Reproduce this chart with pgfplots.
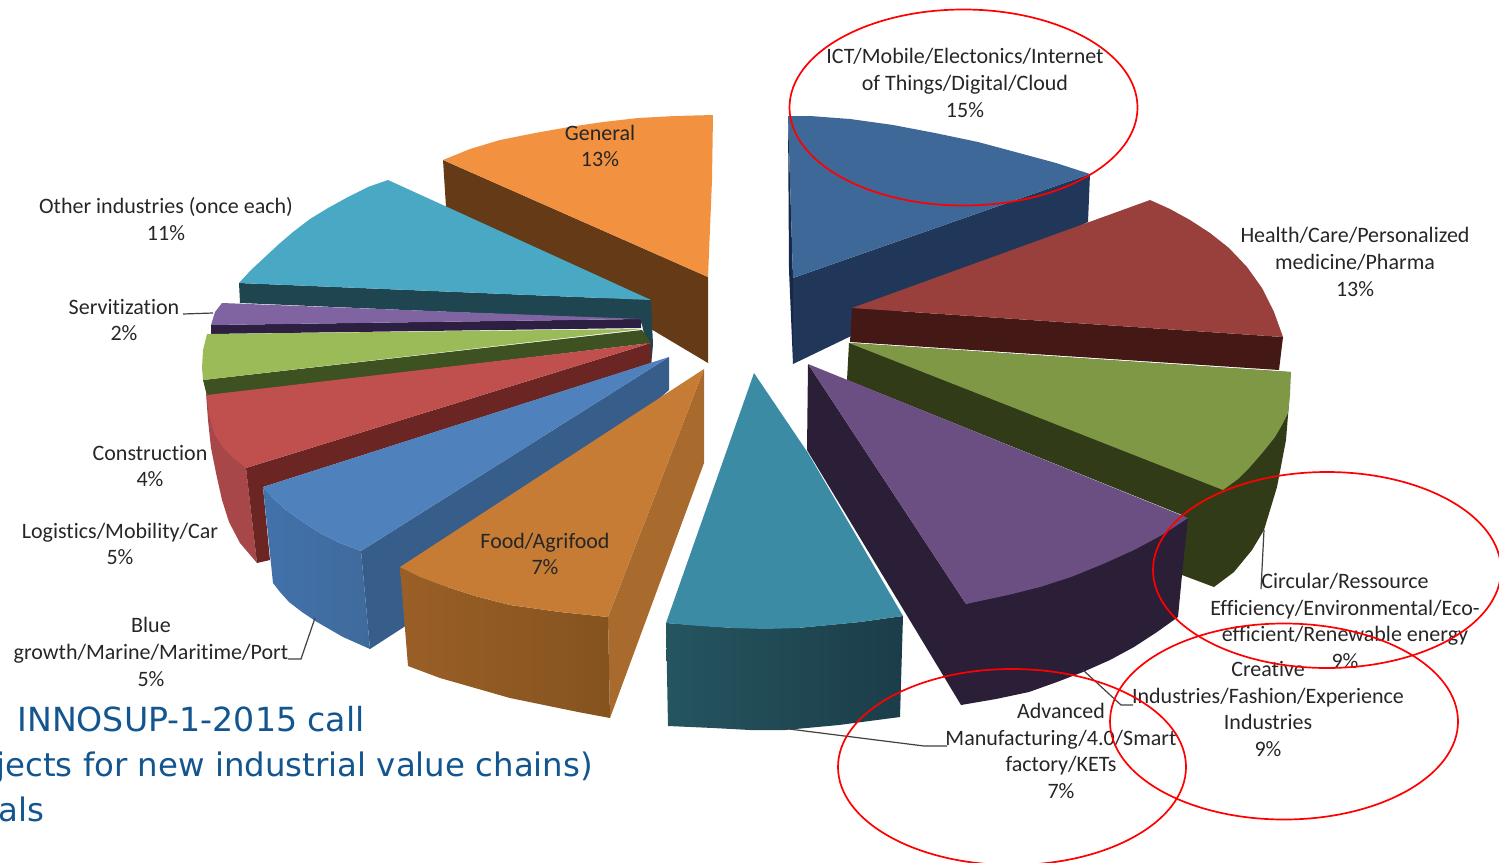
\documentclass[border=0pt]{standalone}
\usepackage{fontspec}
\setmainfont{Carlito}[Ligatures=NoCommon]
\newfontfamily\bluefont{DejaVu Sans}
\usepackage{pgfplots}
\pgfplotsset{compat=1.18}
\definecolor{txt}{HTML}{262626}
\definecolor{bluetxt}{HTML}{13568F}
\definecolor{genD}{HTML}{653B17}\definecolor{genT}{HTML}{F29240}
\definecolor{othD}{HTML}{1F4550}\definecolor{othT}{HTML}{49A9C4}
\definecolor{serD}{HTML}{2D1F42}\definecolor{serT}{HTML}{8064A2}
\definecolor{grnD}{HTML}{3E5120}\definecolor{grnT}{HTML}{9BBB59}
\definecolor{redF}{HTML}{A8474A}\definecolor{redD}{HTML}{6B2523}\definecolor{redT}{HTML}{C0504D}
\definecolor{bluD}{HTML}{375D8A}\definecolor{bluL}{HTML}{4272AB}\definecolor{bluR}{HTML}{3F6A9C}\definecolor{bluT}{HTML}{4F81BD}
\definecolor{fooS}{HTML}{A96A2D}\definecolor{fooL}{HTML}{9A5F27}\definecolor{fooR}{HTML}{85531F}\definecolor{fooT}{HTML}{C67C35}
\definecolor{ictD}{HTML}{21375A}\definecolor{ictE}{HTML}{16294A}\definecolor{ictT}{HTML}{3D6898}
\definecolor{heaD}{HTML}{431815}\definecolor{heaT}{HTML}{9A403C}
\definecolor{oliD}{HTML}{323B18}\definecolor{oliT}{HTML}{7E9845}
\definecolor{purD}{HTML}{2A1F36}\definecolor{purT}{HTML}{6B4F83}
\definecolor{teaL}{HTML}{25555F}\definecolor{teaR}{HTML}{1B3D49}\definecolor{teaT}{HTML}{3B8BA5}
\tikzset{lab/.style={align=center,text=txt,font=\fontsize{11}{13.3}\selectfont,inner sep=0pt},
 ring/.style={draw=red,line width=0.85pt,fill=none},
 bt/.style={anchor=base west,inner sep=0pt,text=bluetxt,font=\bluefont\fontsize{16.2}{19}\selectfont}}
\begin{document}
\begin{tikzpicture}
\path[use as bounding box] (0,0) rectangle (749.5pt,431pt);
\begin{axis}[hide axis,scale only axis,width=749.5pt,height=431pt,xmin=0,xmax=1499,ymin=0,ymax=862,y dir=reverse,clip=true,
  every axis plot/.append style={draw=none,mark=none}]
% General
\addplot[fill=genD] coordinates {(443,160)(708,277)(708,363)(446,207)} --cycle;
\addplot[fill=genT] coordinates {(443,160)(470,149)(500,140)(535,133)(569,127)(603,122)(638,118)(675,116)(713,115)(712,180)(708,277)} --cycle;
% Other industries
\addplot[fill=othD] coordinates {(239,283)(651,300)(653,345)(651,366)(641,320)(240,303)} --cycle;
\addplot[fill=othT] coordinates {(388,180)(368,187)(348,197)(328,208)(310,219)(293,232)(279,244)(265,257)(251,270)(239,283)(651,300)} --cycle;
% Servitization
\addplot[fill=serD] coordinates {(211,325)(641,319)(641,328)(211,334)} --cycle;
\addplot[fill=serT] coordinates {(222,303)(215,312)(211,325)(641,319)} --cycle;
% green
\addplot[fill=grnD] coordinates {(203,380)(642,330)(651,343)(207,396)} --cycle;
\addplot[fill=grnT] coordinates {(207,334)(642,329)(203,380)(202,368)(203,350)} --cycle;
% red
\addplot[fill=redF] coordinates {(206,393)(208,420)(211,448)(216,473)(222,500)(229,522)(240,543)(257,563)(246,468)} --cycle;
\addplot[fill=redD] coordinates {(651,343)(651,363)(263,487)(270,560)(257,563)(246,468)} --cycle;
\addplot[fill=redT] coordinates {(207,395)(651,343)(246,468)(232,457)(222,446)(214,433)(209,415)} --cycle;
% blue
\addplot[fill=bluD] coordinates {(669,357)(361,551)(370,649)(404,627)(669,390)} --cycle;
\addplot[left color=bluL,right color=bluR] coordinates {(263,487)(274,499)(286,510)(303,522)(320,533)(340,543)(361,551)(370,649)(343,637)(317,622)(302,612)(289,602)(280,592)(273,583)} --cycle;
\addplot[fill=bluT] coordinates {(669,357)(361,551)(340,543)(320,533)(303,522)(286,510)(274,499)(263,487)} --cycle;
% Food
\addplot[fill=fooS] coordinates {(704,369)(608,617)(610,718)(704,463)} --cycle;
\addplot[left color=fooL,right color=fooR] coordinates {(400,567)(420,577)(441,585)(475,596)(510,605)(560,612)(608,617)(610,718)(578,712)(544,705)(510,698)(475,688)(440,678)(408,666)} --cycle;
\addplot[fill=fooT] coordinates {(704,369)(608,617)(560,612)(510,605)(475,596)(441,585)(420,577)(400,567)} --cycle;
% ICT
\addplot[fill=ictD] coordinates {(1090,174)(793,278)(793,364)(1088,222)} --cycle;
\addplot[fill=ictE] coordinates {(788,116)(793,278)(793,364)(789,270)} --cycle;
\addplot[fill=ictT] coordinates {(788,116)(810,116)(850,119)(893,125)(935,133)(978,142)(1019,153)(1056,163)(1090,174)(793,278)} --cycle;
% Health
\addplot[fill=heaD] coordinates {(852,308)(1283,337)(1279,370)(850,342)} --cycle;
\addplot[fill=heaT] coordinates {(852,308)(1150,200)(1170,209)(1190,220)(1210,233)(1229,248)(1247,267)(1262,288)(1274,312)(1283,337)} --cycle;
% Olive
\addplot[fill=oliD] coordinates {(849,343)(1290,372)(1289,403)(1286,440)(1277,487)(1264,530)(1252,550)(1234,572)(1214,587)(1182,575)(1182,515)(847,380)} --cycle;
\addplot[fill=oliT] coordinates {(849,343)(1291,372)(1290,395)(1288,413)(1282,425)(1275,437)(1263,452)(1250,467)(1238,479)(1223,490)} --cycle;
% Purple
\addplot[fill=purD] coordinates {(808,364)(807,450)(961,705)(996,699)(1029,692)(1057,682)(1083,672)(1110,660)(1134,647)(1157,632)(1178,617)(1182,575)(1188,518)(966,604)} --cycle;
\addplot[fill=purT] coordinates {(808,364)(1188,518)(1162,535)(1134,550)(1103,564)(1071,577)(1040,587)(1008,595)(966,604)} --cycle;
% Teal
\addplot[left color=teaL,right color=teaR] coordinates {(666,623)(668,726)(713,728)(750,730)(785,730)(839,725)(900,717)(903,616)(860,622)(797,628)(734,628)} --cycle;
\addplot[fill=teaT] coordinates {(754,373)(808,453)(903,616)(860,622)(830,625)(797,628)(765,629)(734,628)(700,626)(666,623)} --cycle;
% leaders
\addplot[draw=black!75,line width=0.6pt] coordinates {(183,314)(213,313)};
\addplot[draw=black!75,line width=0.6pt] coordinates {(288,659)(301,659)(315,618)};
\addplot[draw=black!75,line width=0.6pt] coordinates {(1261,589)(1264,530)};
\addplot[draw=black!75,line width=0.6pt] coordinates {(1133,705)(1121,705)(1083,670)};
\addplot[draw=black!75,line width=0.6pt] coordinates {(947,746)(924,746)(789,729)};
% labels
\node[lab] at (axis cs:965,83) {ICT/Mobile/Electonics/Internet\\of Things/Digital/Cloud\\15\%};
\node[lab] at (axis cs:1355,262) {Health/Care/Personalized\\medicine/Pharma\\13\%};
\node[lab] at (axis cs:1345,621) {Circular/Ressource\\Efficiency/Environmental/Eco-\\efficient/Renewable energy\\9\%};
\node[lab] at (axis cs:1268,709) {Creative\\Industries/Fashion/Experience\\Industries\\9\%};
\node[lab] at (axis cs:1061,751) {Advanced\\Manufacturing/4.0/Smart\\factory/KETs\\7\%};
\node[lab] at (axis cs:545,554) {Food/Agrifood\\7\%};
\node[lab] at (axis cs:151,652) {Blue\\growth/Marine/Maritime/Port\\5\%};
\node[lab] at (axis cs:120,544) {Logistics/Mobility/Car\\5\%};
\node[lab] at (axis cs:150,466) {Construction\\4\%};
\node[lab] at (axis cs:124,320) {Servitization\\2\%};
\node[lab] at (axis cs:166,219) {Other industries (once each)\\11\%};
\node[lab] at (axis cs:600,146) {General\\13\%};
% rings
\draw[ring] (axis cs:963.5,107.5) ellipse [x radius=87pt,y radius=49pt];
\draw[ring] (axis cs:1327,570) ellipse [x radius=87pt,y radius=49pt];
\draw[ring] (axis cs:1284,721.5) ellipse [x radius=87pt,y radius=49pt];
\draw[ring] (axis cs:1012,767) ellipse [x radius=87pt,y radius=49pt];
% blue text
\node[bt,font=\bluefont\fontsize{16.6}{19}\selectfont] at (axis cs:17,731) {INNOSUP-1-2015 call};
\node[bt] at (axis cs:-4,776) {jects for new industrial value chains)};
\node[bt] at (axis cs:-2,821) {als};
\end{axis}
\end{tikzpicture}
\end{document}
